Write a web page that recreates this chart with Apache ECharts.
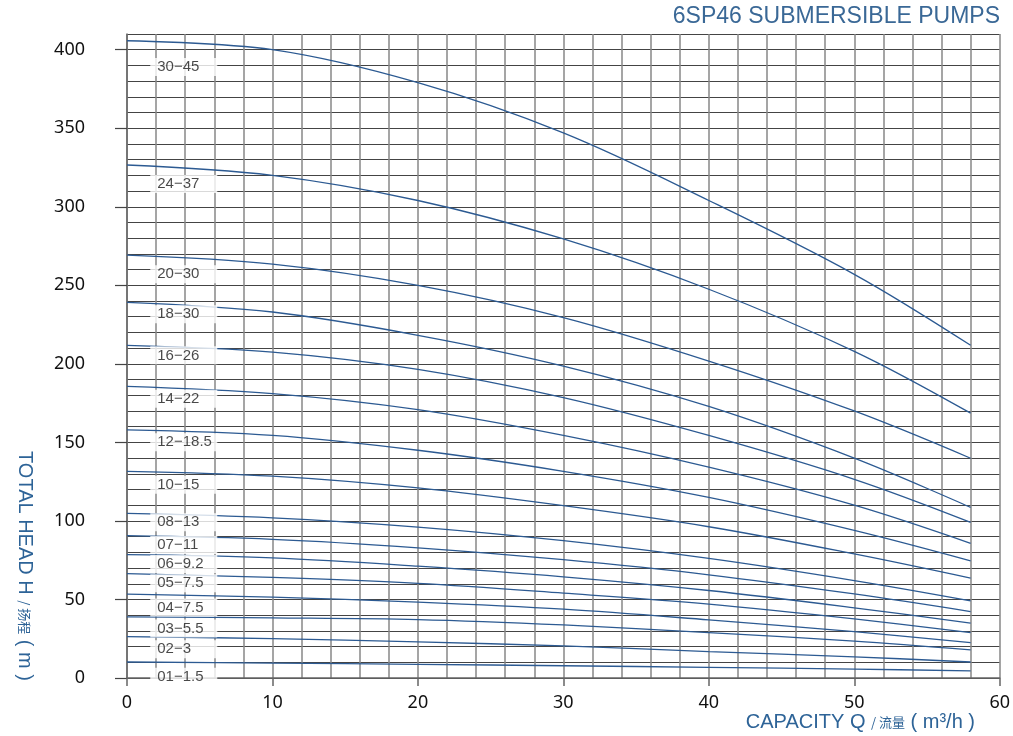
<!DOCTYPE html>
<html>
<head>
<meta charset="utf-8">
<script src="https://cdn.jsdelivr.net/npm/echarts@6/dist/echarts.min.js"></script>
<style>html,body{margin:0;padding:0;background:#fff}#chart{width:1013px;height:736px}</style>
</head>
<body>
<div id="chart"></div>
<script>
// Flow rate sample points (m3/h)
const flowQ = [0, 10, 20, 30, 40, 50, 58];

// Head values (m) for each pump model
const head_30_45 = [405.7, 400, 379, 347, 304, 257, 211.8];
const head_24_37 = [326.6, 320, 304, 279.5, 247.5, 208, 168.6];
const head_20_30 = [269.2, 263.5, 250, 229.5, 201.8, 170, 139.9];
const head_18_30 = [239.2, 233, 218.2, 198.6, 172.9, 140, 108.6];
const head_16_26 = [211.8, 207.5, 196.5, 178.5, 154.4, 126.5, 99.1];
const head_14_22 = [185.6, 181, 170.8, 154.4, 134.2, 110, 85.7];
const head_12_185 = [158, 154.5, 145.0, 131.6, 115.0, 94, 74.6];
const head_10_15 = [131.6, 128.5, 121.0, 109.7, 96.3, 79, 63.6];
const head_08_13 = [104.8, 102, 96.1, 87.4, 76.1, 62, 49.1];
const head_07_11 = [90.6, 88.3, 82.9, 75.3, 65.7, 53.5, 42.3];
const head_06_92 = [78.5, 76.5, 71.2, 64.4, 55.7, 44.7, 34.9];
const head_05_75 = [66.5, 64, 60.2, 54.0, 47.0, 37.6, 28.9];
const head_04_75 = [53.4, 51.5, 48.3, 43.8, 37.0, 29.5, 22.5];
const head_03_55 = [38.9, 38.3, 37.2, 33.8, 28.9, 23.5, 17.9];
const head_02_3 = [26.3, 25.1, 23.0, 20.4, 16.8, 13.5, 10.2];
const head_01_15 = [10.2, 9.5, 8.7, 7.8, 6.8, 5.7, 4.5];

// Model names and the head at which each name tag sits
const modelNames = ['30−45','24−37','20−30','18−30','16−26','14−22','12−18.5','10−15',
                    '08−13','07−11','06−9.2','05−7.5','04−7.5','03−5.5','02−3','01−1.5'];
const labelHeads = [389, 314.5, 257, 231.6, 205.4, 177.8, 150.1, 123.1,
                    99.1, 84.6, 72.5, 60.4, 44.9, 31.5, 18.3, 0.8];
const labelFlow = 1.6;

// Tick labels
const xTickValues = [0, 10, 20, 30, 40, 50, 60];
const yTickValues = [0, 50, 100, 150, 200, 250, 300, 350, 400];

const allHeads = [head_30_45, head_24_37, head_20_30, head_18_30, head_16_26, head_14_22,
  head_12_185, head_10_15, head_08_13, head_07_11, head_06_92, head_05_75, head_04_75,
  head_03_55, head_02_3, head_01_15];

const curveColor = '#2c5a92';
const blue = '#2d6397';

const series = allHeads.map((h, i) => ({
  type: 'line',
  name: modelNames[i],
  data: flowQ.map((q, j) => [q, h[j]]),
  smooth: 0.35,
  symbol: 'none',
  lineStyle: { color: curveColor, width: 1.3 },
  z: 3,
  silent: true
}));

series.push({
  type: 'scatter',
  symbolSize: 0,
  z: 5,
  silent: true,
  data: modelNames.map((n, i) => [labelFlow, labelHeads[i], n]),
  label: {
    show: true,
    position: 'inside',
    align: 'left',
    verticalAlign: 'middle',
    formatter: p => p.data[2],
    fontFamily: 'Liberation Sans, Arial, sans-serif',
    fontSize: 15,
    color: '#1a1a1a',
    backgroundColor: '#fff',
    width: 58,
    lineHeight: 16,
    padding: [1, 2, 1, 7]
  }
});

const labelFont = { fontFamily: 'Noto Sans', fontSize: 18, color: '#111' };

const chart = echarts.init(document.getElementById('chart'), null, { renderer: 'canvas' });
chart.setOption({
  animation: false,
  backgroundColor: '#fff',
  grid: { left: 127, right: 13, top: 34, bottom: 58 },
  xAxis: [
    {
      type: 'value', min: 0, max: 60, interval: 2, position: 'bottom',
      axisLine: { show: false }, axisTick: { show: false }, axisLabel: { show: false },
      splitLine: { show: true, lineStyle: { color: '#878787', width: 1.5 } }
    },
    {
      type: 'value', min: 0, max: 60, position: 'bottom',
      axisLine: { show: true, onZero: false, lineStyle: { color: '#666', width: 1.5 } },
      axisTick: { show: true, customValues: xTickValues, length: 8, lineStyle: { color: '#666', width: 1.5 } },
      axisLabel: Object.assign({ customValues: xTickValues, margin: 16 }, labelFont),
      splitLine: { show: false }
    }
  ],
  yAxis: [
    {
      type: 'value', min: 0, max: 410, interval: 10, position: 'left',
      axisLine: { show: false }, axisTick: { show: false }, axisLabel: { show: false },
      splitLine: { show: true, lineStyle: { color: '#444', width: 1.1 } }
    },
    {
      type: 'value', min: 0, max: 410, position: 'left',
      axisLine: { show: true, onZero: false, lineStyle: { color: '#666', width: 1.5 } },
      axisTick: { show: true, customValues: yTickValues, length: 12, lineStyle: { color: '#444', width: 1.2 } },
      axisLabel: Object.assign({ customValues: yTickValues, margin: 42 }, labelFont),
      splitLine: { show: false }
    }
  ],
  graphic: [
    {
      type: 'text', right: 13, top: 5,
      style: { text: '6SP46 SUBMERSIBLE PUMPS', fontFamily: 'Liberation Sans, Arial, sans-serif', fontSize: 23, fill: '#3a6896' }
    },
    {
      type: 'text', x: 975, y: 722,
      style: {
        text: '{a|CAPACITY Q }{b|/ 流量}{a| ( m³/h )}',
        align: 'right', verticalAlign: 'middle',
        rich: {
          a: { fontFamily: 'Liberation Sans, Arial, sans-serif', fontSize: 20, fill: blue },
          b: { fontFamily: 'Noto Sans CJK SC', fontSize: 13, fill: blue }
        }
      }
    },
    {
      type: 'text', x: 25, y: 451, rotation: -Math.PI / 2,
      style: {
        text: '{a|TOTAL HEAD H }{b|/ 扬程}{a| ( m )}',
        align: 'left', verticalAlign: 'middle',
        rich: {
          a: { fontFamily: 'Liberation Sans, Arial, sans-serif', fontSize: 20, fill: blue },
          b: { fontFamily: 'Noto Sans CJK SC', fontSize: 13, fill: blue }
        }
      }
    }
  ],
  series: series
});
</script>
</body>
</html>
